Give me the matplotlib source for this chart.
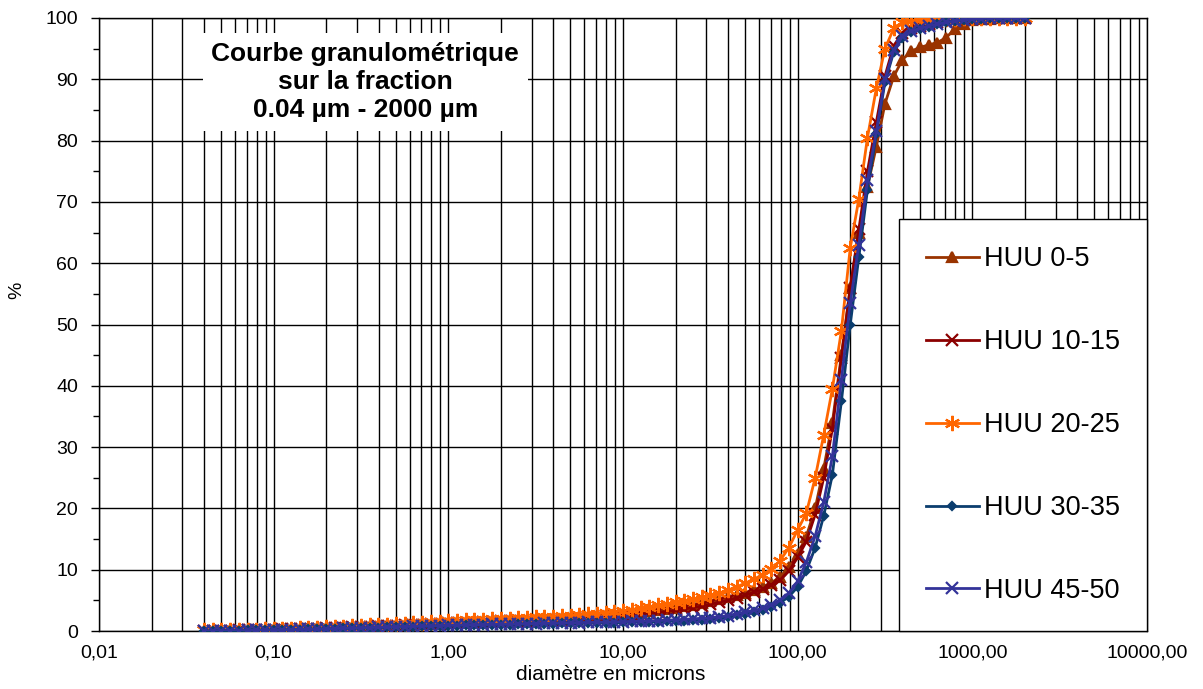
import matplotlib
matplotlib.use('Agg')
import matplotlib.pyplot as plt
from matplotlib.ticker import FixedLocator, LogLocator, FuncFormatter, NullFormatter, MultipleLocator

plt.rcParams['font.family'] = ['Liberation Sans', 'DejaVu Sans']

# diametres (microns)
taille = [0.040, 0.045, 0.050, 0.056, 0.063, 0.071, 0.079, 0.089,
          0.100, 0.112, 0.126, 0.141, 0.158, 0.178, 0.200, 0.224, 0.251, 0.282,
          0.316, 0.355, 0.398, 0.447, 0.501, 0.562, 0.631, 0.708, 0.794, 0.891,
          1.00, 1.12, 1.26, 1.41, 1.58, 1.78, 2.00, 2.24, 2.51, 2.82,
          3.16, 3.55, 3.98, 4.47, 5.01, 5.62, 6.31, 7.08, 7.94, 8.91,
          10.0, 11.2, 12.6, 14.1, 15.8, 17.8, 20.0, 22.4, 25.1, 28.2,
          31.6, 35.5, 39.8, 44.7, 50.1, 56.2, 63.1, 70.8, 79.4, 89.1,
          100, 112, 126, 141, 158, 178, 200, 224, 251, 282,
          316, 355, 398, 447, 501, 562, 631, 708, 794, 891,
          1000, 1122, 1259, 1413, 1585, 1778, 1995]

huu_0_5 = [0.03, 0.05, 0.07, 0.09, 0.11, 0.14, 0.17, 0.20,
           0.25, 0.29, 0.33, 0.37, 0.41, 0.46, 0.51, 0.56, 0.61, 0.66,
           0.72, 0.78, 0.84, 0.90, 0.96, 1.02, 1.08, 1.14, 1.20, 1.28,
           1.35, 1.40, 1.45, 1.50, 1.55, 1.60, 1.66, 1.72, 1.78, 1.84,
           1.90, 1.97, 2.04, 2.11, 2.18, 2.26, 2.35, 2.45, 2.55, 2.67,
           2.80, 2.94, 3.08, 3.22, 3.38, 3.58, 3.80, 4.05, 4.30, 4.60,
           4.90, 5.20, 5.55, 5.90, 6.20, 6.70, 7.20, 7.90, 8.80, 10.4,
           12.6, 15.4, 20.0, 26.5, 34.0, 45.0, 56.0, 65.0, 72.5, 79.0,
           86.0, 90.5, 93.2, 94.6, 95.2, 95.6, 96.0, 96.8, 98.2, 99.1,
           99.6, 99.8, 99.9, 100, 100, 100, 100]

huu_10_15 = [0.02, 0.04, 0.06, 0.08, 0.10, 0.12, 0.15, 0.18,
             0.22, 0.25, 0.28, 0.32, 0.36, 0.40, 0.45, 0.50, 0.55, 0.60,
             0.65, 0.70, 0.75, 0.80, 0.88, 0.94, 1.00, 1.06, 1.12, 1.18,
             1.25, 1.28, 1.31, 1.35, 1.40, 1.45, 1.55, 1.58, 1.62, 1.66,
             1.70, 1.75, 1.80, 1.85, 2.00, 2.05, 2.12, 2.20, 2.30, 2.40,
             2.50, 2.62, 2.75, 2.88, 3.02, 3.20, 3.40, 3.60, 3.82, 4.05,
             4.35, 4.70, 5.00, 5.40, 5.85, 6.30, 6.80, 7.50, 8.30, 9.80,
             12.0, 14.6, 19.0, 25.0, 33.0, 44.5, 56.0, 65.5, 75.0, 83.0,
             90.5, 95.5, 97.5, 98.3, 98.7, 99.0, 99.3, 99.5, 99.7, 99.8,
             99.9, 100, 100, 100, 100, 100, 100]

huu_20_25 = [0.10, 0.12, 0.14, 0.16, 0.18, 0.21, 0.24, 0.27,
             0.30, 0.34, 0.38, 0.43, 0.48, 0.53, 0.58, 0.64, 0.70, 0.76,
             0.83, 0.90, 0.97, 1.04, 1.11, 1.19, 1.27, 1.35, 1.43, 1.51,
             1.60, 1.66, 1.72, 1.78, 1.84, 1.90, 1.96, 2.02, 2.08, 2.15,
             2.22, 2.29, 2.36, 2.44, 2.52, 2.60, 2.70, 2.82, 2.96, 3.12,
             3.30, 3.50, 3.72, 3.94, 4.17, 4.40, 4.65, 4.92, 5.20, 5.50,
             5.85, 6.20, 6.65, 7.20, 7.80, 8.45, 9.20, 10.1, 11.5, 13.6,
             16.5, 19.2, 25.0, 32.0, 39.5, 49.0, 62.5, 70.5, 80.5, 88.5,
             95.0, 98.3, 99.3, 99.5, 99.6, 99.7, 99.8, 99.85, 99.9, 99.95,
             100, 100, 100, 100, 100, 100, 100]

huu_30_35 = [0.00, 0.02, 0.03, 0.05, 0.07, 0.09, 0.11, 0.13,
             0.15, 0.17, 0.20, 0.23, 0.26, 0.29, 0.33, 0.37, 0.41, 0.45,
             0.49, 0.53, 0.57, 0.61, 0.64, 0.68, 0.72, 0.75, 0.78, 0.82,
             0.85, 0.88, 0.91, 0.94, 0.97, 1.00, 1.03, 1.06, 1.09, 1.12,
             1.15, 1.18, 1.21, 1.24, 1.27, 1.30, 1.32, 1.34, 1.36, 1.38,
             1.40, 1.43, 1.46, 1.50, 1.54, 1.59, 1.65, 1.71, 1.78, 1.86,
             1.96, 2.10, 2.30, 2.55, 2.80, 3.10, 3.40, 3.90, 4.60, 5.60,
             7.20, 9.80, 13.6, 18.8, 25.5, 37.5, 50.0, 61.0, 72.0, 81.0,
             89.5, 94.5, 96.8, 97.7, 98.2, 98.6, 99.0, 99.3, 99.5, 99.7,
             99.8, 99.9, 100, 100, 100, 100, 100]

huu_45_50 = [0.00, 0.02, 0.04, 0.06, 0.08, 0.10, 0.12, 0.14,
             0.16, 0.19, 0.22, 0.25, 0.28, 0.32, 0.36, 0.40, 0.44, 0.48,
             0.52, 0.56, 0.60, 0.64, 0.68, 0.72, 0.76, 0.80, 0.84, 0.88,
             0.92, 0.95, 0.98, 1.01, 1.04, 1.07, 1.10, 1.13, 1.16, 1.19,
             1.22, 1.25, 1.28, 1.31, 1.34, 1.37, 1.40, 1.43, 1.46, 1.49,
             1.52, 1.56, 1.60, 1.65, 1.70, 1.76, 1.83, 1.90, 1.98, 2.07,
             2.17, 2.30, 2.50, 2.80, 3.10, 3.35, 3.70, 4.20, 5.00, 6.20,
             8.10, 11.2, 15.5, 21.0, 28.5, 41.0, 53.5, 63.0, 73.5, 81.5,
             90.0, 94.8, 97.0, 97.8, 98.3, 98.7, 99.0, 99.3, 99.5, 99.7,
             99.8, 99.9, 100, 100, 100, 100, 100]

decades = [0.01, 0.1, 1, 10, 100, 1000, 10000]

series = [
    (huu_0_5, 'HUU 0-5', '#993300', '^', 6.5),
    (huu_10_15, 'HUU 10-15', '#8B0000', 'x', 8),
    (huu_20_25, 'HUU 20-25', '#FF6600', (6, 2, 0), 11),
    (huu_30_35, 'HUU 30-35', '#0B3D6E', 'D', 4.5),
    (huu_45_50, 'HUU 45-50', '#333399', 'x', 8.5),
]

fig = plt.figure(figsize=(12.03, 6.89), dpi=100)
ax = fig.add_axes([99/1203, 58/689, 1048/1203, 613/689])

for y, lab, c, m, ms in series:
    ax.plot(taille, y, color=c, lw=2, marker=m, ms=ms, mec=c, mfc=c,
            mew=1.6, label=lab, zorder=3)

ax.set_xscale('log')
ax.set_xlim(0.01, 10000)
ax.set_ylim(0, 100)

ax.xaxis.set_major_locator(FixedLocator(decades))
ax.xaxis.set_minor_locator(LogLocator(base=10, subs=range(2, 10), numticks=20))
ax.xaxis.set_major_formatter(FuncFormatter(lambda v, p: f'{v:.2f}'.replace('.', ',')))
ax.xaxis.set_minor_formatter(NullFormatter())
ax.yaxis.set_major_locator(MultipleLocator(10))
ax.yaxis.set_minor_locator(MultipleLocator(5))

ax.set_axisbelow(True)
ax.grid(which='major', axis='both', color='black', lw=1)
ax.grid(which='minor', axis='x', color='black', lw=1)
ax.tick_params(axis='x', which='both', length=0, pad=10, labelsize=14)
ax.tick_params(axis='y', which='major', length=6, width=1, pad=9, labelsize=14)
ax.tick_params(axis='y', which='minor', length=4, width=1)
for s in ax.spines.values():
    s.set_color('black')
    s.set_linewidth(1)

ax.set_xlabel('diamètre en microns', fontsize=15)
ax.xaxis.set_label_coords(0.488, -0.056)
ax.set_ylabel('%', fontsize=14)
ax.yaxis.set_label_coords(-0.07, 0.556)

ax.text(0.254, 0.8956, 'Courbe granulométrique\nsur la fraction\n0.04 µm - 2000 µm',
        transform=ax.transAxes, ha='center', va='center', fontsize=19,
        fontweight='bold', linespacing=1.22, zorder=4,
        bbox=dict(facecolor='white', edgecolor='none', pad=6))

leg = ax.legend(loc='lower right', bbox_to_anchor=(1, 0), borderaxespad=0,
                fontsize=19.5, fancybox=False, edgecolor='black', framealpha=1,
                borderpad=1.0, labelspacing=2.1, handlelength=1.95,
                handletextpad=0.2)
leg.get_frame().set_linewidth(1)
leg.set_zorder(5)

fig.savefig('out.png', dpi=100)
